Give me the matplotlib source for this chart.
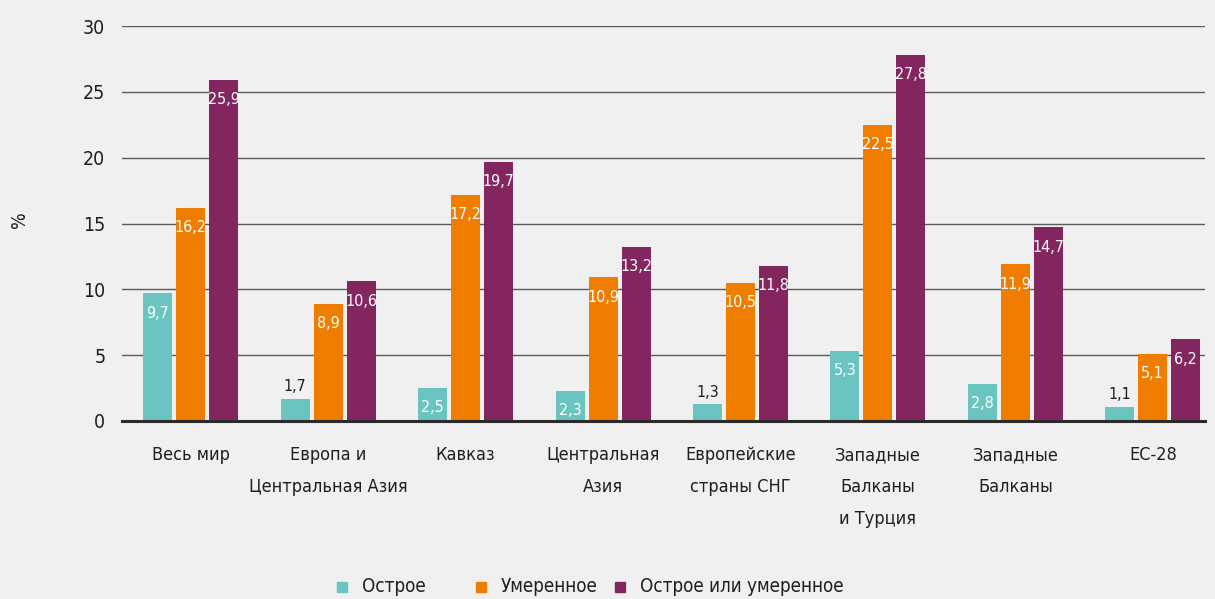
import numpy as np
import matplotlib.pyplot as plt
from matplotlib.lines import Line2D

plt.rcParams['font.family'] = ['DejaVu Sans']
plt.rcParams['font.stretch'] = 'condensed'

# данные
regions = ['Весь мир', 'Европа и\nЦентральная Азия', 'Кавказ', 'Центральная\nАзия',
           'Европейские\nстраны СНГ', 'Западные\nБалканы\nи Турция', 'Западные\nБалканы', 'ЕС-28']
severe = [9.7, 1.7, 2.5, 2.3, 1.3, 5.3, 2.8, 1.1]
moderate = [16.2, 8.9, 17.2, 10.9, 10.5, 22.5, 11.9, 5.1]
sev_or_mod = [25.9, 10.6, 19.7, 13.2, 11.8, 27.8, 14.7, 6.2]
series_names = ['Острое', 'Умеренное', 'Острое или умеренное']
colors = ['#6ac4bf', '#ef7d00', '#83265f']

bg = '#f0f0f0'
txt_col = '#1e1e1e'
W, H = 1215, 599
fig = plt.figure(figsize=(W / 100, H / 100), dpi=100, facecolor=bg)
ax = fig.add_axes([122 / W, 1 - 421 / H, (1205 - 122) / W, (421 - 26) / H])
ax.set_facecolor(bg)

x = np.arange(len(regions))
w = 0.211
step = 0.240
for k, (vals, c) in enumerate(zip([severe, moderate, sev_or_mod], colors)):
    pos = x + (k - 1) * step
    ax.bar(pos, vals, width=w, color=c, zorder=3)
    for p, v in zip(pos, vals):
        lab = f'{v:.1f}'.replace('.', ',')
        if v < 2:
            ax.text(p, v + 0.9, lab, ha='center', va='center', fontsize=11.5,
                    color=txt_col, zorder=4)
        else:
            ax.text(p, v - 1.5, lab, ha='center', va='center', fontsize=11.5,
                    color='white', zorder=4)

ax.set_ylim(0, 30)
ax.set_xlim(-0.5, 7.38)
ax.set_yticks(range(0, 31, 5))
ax.yaxis.grid(True, color='#5a5a5a', linewidth=1.0, zorder=0)
ax.tick_params(axis='y', length=0, pad=12, labelsize=14, labelcolor=txt_col)
ax.set_xticks(x)
ax.set_xticklabels(regions, fontsize=13, color=txt_col, linespacing=2.0, va='top')
ax.tick_params(axis='x', length=0, pad=18)
for s in ['top', 'right', 'left']:
    ax.spines[s].set_visible(False)
ax.spines['bottom'].set_color('#2a2a2a')
ax.spines['bottom'].set_linewidth(2.2)
ax.spines['bottom'].set_zorder(5)

fig.text(19 / W, 1 - 220 / H, '%', rotation=90, ha='center', va='center',
         fontsize=14, color=txt_col)

# легенда с колонками одинаковой ширины
leg_x0, leg_step, leg_y = 342, 139, 587
for i, (name, c) in enumerate(zip(series_names, colors)):
    mx = leg_x0 + i * leg_step
    fig.add_artist(Line2D([mx / W], [1 - leg_y / H], marker='s', markersize=7,
                          linestyle='none', color=c, transform=fig.transFigure))
    fig.text((mx + 20) / W, 1 - leg_y / H, name, ha='left', va='center',
             fontsize=13.5, color=txt_col)

fig.savefig('out.png', dpi=100, facecolor=bg)
